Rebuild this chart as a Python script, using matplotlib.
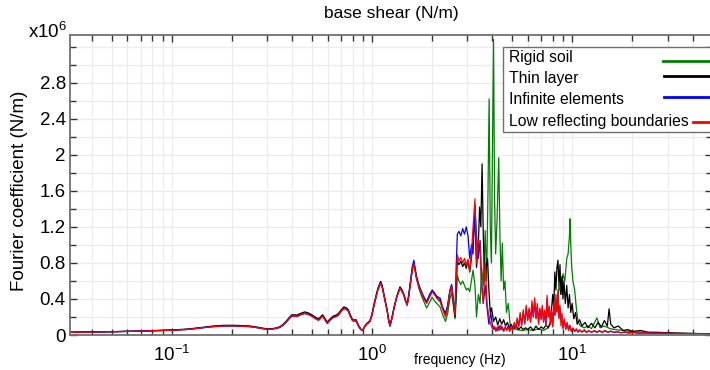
import numpy as np
import matplotlib
matplotlib.use("Agg")
import matplotlib.pyplot as plt
from matplotlib.ticker import MultipleLocator, LogLocator, NullFormatter
from matplotlib.patches import Rectangle
from matplotlib.lines import Line2D

plt.rcParams['font.family'] = ['Liberation Sans', 'DejaVu Sans']
plt.rcParams['mathtext.fontset'] = 'custom'
plt.rcParams['mathtext.rm'] = 'Liberation Sans'
plt.rcParams['mathtext.it'] = 'Liberation Sans:italic'

# shared low-frequency part (Hz) and values (x1e6 N/m)
f_low = [0.031, 0.05, 0.07, 0.1, 0.12, 0.14, 0.16, 0.18, 0.2, 0.22,
         0.245, 0.27, 0.29, 0.31, 0.33, 0.347, 0.36, 0.375, 0.387, 0.397,
         0.41, 0.42, 0.44, 0.462, 0.48, 0.5, 0.52, 0.541, 0.555, 0.567,
         0.58, 0.598, 0.62, 0.641, 0.66, 0.678, 0.7, 0.724, 0.745, 0.762,
         0.78, 0.8, 0.816, 0.832, 0.848, 0.864, 0.88, 0.898, 0.92, 0.94,
         0.96, 0.977, 1.0, 1.02, 1.035, 1.07, 1.105, 1.125, 1.148, 1.17,
         1.193, 1.21, 1.23, 1.26, 1.29, 1.33, 1.38, 1.41, 1.445, 1.47,
         1.5, 1.525, 1.55, 1.59, 1.62, 1.645, 1.67, 1.725, 1.77, 1.81,
         1.876, 1.94, 2.0, 2.05, 2.107, 2.19, 2.26, 2.33, 2.39, 2.45,
         2.5, 2.55, 2.6]
rigid_low = [0.03, 0.036, 0.043, 0.053, 0.062, 0.078, 0.093, 0.1, 0.101, 0.098,
             0.094, 0.08, 0.068, 0.063, 0.072, 0.085, 0.11, 0.15, 0.185, 0.21,
             0.21, 0.205, 0.225, 0.24, 0.23, 0.21, 0.185, 0.165, 0.19, 0.21,
             0.175, 0.13, 0.17, 0.195, 0.205, 0.22, 0.26, 0.295, 0.285, 0.265,
             0.21, 0.16, 0.155, 0.16, 0.12, 0.085, 0.06, 0.05, 0.09, 0.12,
             0.135, 0.15, 0.22, 0.315, 0.38, 0.51, 0.59, 0.54, 0.445, 0.35,
             0.26, 0.17, 0.1, 0.19, 0.3, 0.42, 0.52, 0.49, 0.44, 0.38,
             0.33, 0.42, 0.54, 0.72, 0.79, 0.7, 0.62, 0.5, 0.43, 0.38,
             0.3, 0.36, 0.42, 0.38, 0.35, 0.31, 0.22, 0.15, 0.24, 0.4,
             0.47, 0.32, 0.18]
thin_low = [0.031, 0.037, 0.045, 0.056, 0.066, 0.083, 0.099, 0.107, 0.108, 0.105,
            0.1, 0.086, 0.073, 0.068, 0.077, 0.092, 0.118, 0.16, 0.197, 0.223,
            0.225, 0.22, 0.24, 0.256, 0.246, 0.226, 0.2, 0.18, 0.205, 0.225,
            0.19, 0.143, 0.183, 0.21, 0.22, 0.236, 0.276, 0.312, 0.302, 0.28,
            0.224, 0.172, 0.167, 0.17, 0.13, 0.093, 0.066, 0.055, 0.096, 0.128,
            0.143, 0.16, 0.232, 0.325, 0.385, 0.515, 0.595, 0.55, 0.455, 0.362,
            0.27, 0.178, 0.105, 0.198, 0.31, 0.43, 0.535, 0.505, 0.45, 0.39,
            0.34, 0.43, 0.55, 0.73, 0.8, 0.72, 0.64, 0.53, 0.47, 0.42,
            0.36, 0.43, 0.49, 0.46, 0.42, 0.38, 0.3, 0.24, 0.33, 0.49,
            0.55, 0.37, 0.2]
inf_low = [0.03, 0.036, 0.043, 0.053, 0.062, 0.078, 0.093, 0.1, 0.101, 0.098,
           0.094, 0.08, 0.068, 0.063, 0.072, 0.085, 0.11, 0.15, 0.185, 0.21,
           0.21, 0.205, 0.225, 0.24, 0.23, 0.21, 0.185, 0.165, 0.19, 0.21,
           0.175, 0.13, 0.17, 0.195, 0.205, 0.22, 0.26, 0.295, 0.285, 0.265,
           0.21, 0.16, 0.155, 0.16, 0.12, 0.085, 0.06, 0.05, 0.09, 0.12,
           0.135, 0.15, 0.22, 0.31, 0.37, 0.5, 0.575, 0.53, 0.44, 0.35,
           0.26, 0.17, 0.1, 0.19, 0.3, 0.42, 0.52, 0.49, 0.44, 0.38,
           0.34, 0.44, 0.56, 0.76, 0.83, 0.74, 0.65, 0.54, 0.48, 0.43,
           0.37, 0.45, 0.5, 0.47, 0.43, 0.41, 0.3, 0.22, 0.32, 0.49,
           0.56, 0.4, 0.25]
lrb_low = [0.03, 0.036, 0.043, 0.053, 0.062, 0.078, 0.093, 0.1, 0.101, 0.098,
           0.094, 0.08, 0.068, 0.063, 0.072, 0.085, 0.11, 0.15, 0.185, 0.21,
           0.21, 0.205, 0.225, 0.24, 0.23, 0.21, 0.185, 0.165, 0.19, 0.21,
           0.175, 0.13, 0.17, 0.195, 0.205, 0.22, 0.26, 0.295, 0.285, 0.265,
           0.21, 0.16, 0.155, 0.16, 0.12, 0.085, 0.06, 0.05, 0.09, 0.12,
           0.135, 0.15, 0.22, 0.31, 0.37, 0.5, 0.575, 0.53, 0.44, 0.35,
           0.26, 0.17, 0.1, 0.19, 0.3, 0.42, 0.52, 0.49, 0.44, 0.38,
           0.33, 0.42, 0.54, 0.72, 0.79, 0.71, 0.63, 0.52, 0.46, 0.41,
           0.35, 0.42, 0.48, 0.45, 0.41, 0.37, 0.28, 0.2, 0.3, 0.47,
           0.54, 0.38, 0.22]

# high-frequency parts
f_rigid = [2.63, 2.67, 2.72, 2.78, 2.84, 2.9, 2.96, 3.02, 3.08, 3.14,
           3.2, 3.27, 3.33, 3.4, 3.47, 3.53, 3.6, 3.68, 3.74, 3.8,
           3.85, 3.9, 3.95, 4.0, 4.05, 4.1, 4.15, 4.22, 4.3, 4.36,
           4.42, 4.48, 4.55, 4.62, 4.7, 4.8, 4.9, 5.0, 5.3, 5.6,
           6.0, 6.4, 6.8, 7.2, 7.6, 8.0, 8.2, 8.4, 8.6, 8.8,
           9.0, 9.2, 9.4, 9.55, 9.7, 9.77, 9.85, 9.95, 10.1, 10.3,
           10.5, 10.7, 11.0, 11.5, 12.0, 12.5, 13.3, 13.8, 14.5, 15.5,
           16.5, 18.0, 20.0, 23.0, 27.0, 32.0, 40.0, 50.0]
rigid_hi = [0.35, 0.66, 0.6, 0.56, 0.6, 0.55, 0.5, 0.52, 0.48, 0.6,
            0.72, 0.55, 0.2, 0.45, 0.35, 0.75, 0.55, 1.16, 0.6, 1.6,
            2.62, 1.2, 0.8, 2.0, 3.28, 1.5, 0.9, 1.3, 1.97, 1.1,
            0.6, 1.02, 0.5, 0.6, 0.25, 0.35, 0.12, 0.08, 0.06, 0.05,
            0.06, 0.05, 0.07, 0.05, 0.08, 0.2, 0.35, 0.3, 0.55, 0.45,
            0.68, 0.6, 0.85, 0.9, 1.1, 1.29, 1.0, 0.75, 0.6, 0.5,
            0.3, 0.15, 0.1, 0.08, 0.1, 0.07, 0.19, 0.08, 0.1, 0.07,
            0.06, 0.05, 0.035, 0.03, 0.025, 0.02, 0.016, 0.013]

f_thin = [2.63, 2.67, 2.72, 2.78, 2.84, 2.9, 2.96, 3.02, 3.08, 3.14, 3.2, 3.27,
          3.33, 3.4, 3.45, 3.5, 3.55, 3.6, 3.66, 3.72, 3.78, 3.84, 3.9, 3.96,
          4.05, 4.15, 4.25, 4.35, 4.45, 4.55, 4.65, 4.75, 4.85, 4.95,
          5.1, 5.25, 5.4, 5.55, 5.7, 5.85,
          6.0, 6.2, 6.4, 6.6, 6.8, 7.0, 7.2, 7.4, 7.6, 7.8,
          7.9, 8.0, 8.1, 8.2, 8.3, 8.4, 8.5, 8.6, 8.7, 8.8, 8.9, 9.0, 9.1,
          9.25, 9.4, 9.55, 9.7, 9.85, 10.0,
          10.2, 10.4, 10.6, 10.9, 11.2, 11.6, 12.0,
          12.5, 13.0, 13.5, 14.0, 14.5, 15.0, 15.3, 15.6, 16.2, 17.0,
          18.0, 19.0, 20.0, 22.0, 24.0, 27.0, 30.0, 35.0, 40.0, 45.0, 50.0]
thin_hi = [0.45, 0.82, 0.78, 0.82, 0.76, 0.8, 0.74, 0.82, 0.7, 0.85, 1.05, 1.3,
           0.75, 1.0, 1.42, 1.2, 1.9, 1.1, 0.6, 0.75, 0.85, 0.5, 0.25, 0.3,
           0.15, 0.2, 0.11, 0.18, 0.12, 0.17, 0.1, 0.14, 0.08, 0.12,
           0.07, 0.1, 0.06, 0.09, 0.06, 0.08,
           0.06, 0.09, 0.05, 0.1, 0.06, 0.09, 0.07, 0.11, 0.08, 0.14,
           0.3, 0.45, 0.3, 0.7, 0.5, 0.75, 0.83, 0.55, 0.78, 0.45, 0.65, 0.4, 0.6,
           0.35, 0.55, 0.3, 0.45, 0.25, 0.35,
           0.18, 0.25, 0.12, 0.17, 0.1, 0.14, 0.08,
           0.13, 0.08, 0.14, 0.09, 0.16, 0.1, 0.29, 0.12, 0.08, 0.1,
           0.05, 0.06, 0.04, 0.05, 0.03, 0.03, 0.025, 0.02, 0.017, 0.015, 0.013]

f_hi = [2.63, 2.67, 2.72, 2.78, 2.84, 2.9, 2.96, 3.02, 3.08, 3.14, 3.2, 3.27,
        3.33, 3.4, 3.47, 3.53, 3.6, 3.68, 3.76, 3.84, 3.92,
        4.0, 4.08, 4.16, 4.24, 4.32, 4.4, 4.48, 4.56, 4.64, 4.72, 4.8, 4.88, 4.96,
        5.05, 5.14, 5.23, 5.32, 5.41, 5.5,
        5.6, 5.7, 5.8, 5.9, 6.0, 6.1, 6.2, 6.3, 6.4, 6.5, 6.6, 6.7, 6.8, 6.9,
        7.0, 7.1, 7.2, 7.3, 7.4, 7.5, 7.6, 7.7, 7.8, 7.9, 8.0, 8.1, 8.2, 8.3,
        8.4, 8.5, 8.6, 8.7, 8.8, 8.9, 9.0,
        9.15, 9.3, 9.45, 9.6, 9.75, 9.9,
        10.1, 10.3, 10.5, 10.7, 10.9,
        11.2, 11.5, 11.8, 12.1,
        12.5, 12.9, 13.3, 13.7, 14.1,
        14.6, 15.1, 15.6, 16.2, 16.8, 17.5, 18.3, 19.2, 20.2, 21.5,
        23.0, 25.0, 27.5, 30.0, 33.0, 37.0, 41.0, 45.0, 50.0]
inf_hi = [0.7, 1.12, 1.15, 1.1, 1.18, 1.12, 1.2, 1.1, 0.85, 1.0, 0.9, 1.45,
          1.1, 0.85, 1.05, 0.6, 0.35, 0.55, 0.3, 0.12, 0.25,
          0.1, 0.06, 0.08, 0.05, 0.1, 0.06, 0.09, 0.05, 0.08, 0.06, 0.1, 0.05, 0.08,
          0.06, 0.12, 0.08, 0.17, 0.1, 0.22,
          0.12, 0.25, 0.14, 0.3, 0.17, 0.28, 0.15, 0.34, 0.2, 0.37, 0.19, 0.32, 0.14, 0.28,
          0.18, 0.3, 0.15, 0.26, 0.12, 0.4, 0.2, 0.3, 0.13, 0.25, 0.1, 0.33, 0.22, 0.4,
          0.26, 0.45, 0.2, 0.3, 0.22, 0.2, 0.08,
          0.16, 0.07, 0.13, 0.06, 0.1, 0.05,
          0.07, 0.04, 0.06, 0.035, 0.05,
          0.035, 0.05, 0.03, 0.045,
          0.03, 0.045, 0.03, 0.045, 0.03,
          0.045, 0.03, 0.04, 0.028, 0.035, 0.025, 0.03, 0.022, 0.028, 0.02,
          0.022, 0.02, 0.02, 0.017, 0.016, 0.015, 0.014, 0.013, 0.012]
lrb_hi = [0.55, 0.89, 0.82, 0.86, 0.8, 0.85, 0.78, 0.84, 0.7, 0.9, 1.2, 1.51,
          0.8, 1.05, 1.0, 0.55, 0.35, 0.8, 0.35, 0.2, 0.12,
          0.07, 0.1, 0.04, 0.09, 0.05, 0.11, 0.06, 0.04, 0.1, 0.05, 0.08, 0.04, 0.1,
          0.05, 0.14, 0.07, 0.19, 0.09, 0.25,
          0.1, 0.28, 0.12, 0.33, 0.16, 0.3, 0.14, 0.38, 0.2, 0.41, 0.18, 0.35, 0.12, 0.3,
          0.17, 0.33, 0.14, 0.28, 0.1, 0.44, 0.2, 0.32, 0.12, 0.27, 0.09, 0.36, 0.22, 0.45,
          0.25, 0.5, 0.18, 0.33, 0.1, 0.24, 0.07,
          0.18, 0.06, 0.14, 0.05, 0.11, 0.04,
          0.08, 0.04, 0.07, 0.03, 0.06,
          0.03, 0.06, 0.03, 0.05,
          0.03, 0.05, 0.03, 0.05, 0.03,
          0.05, 0.03, 0.045, 0.03, 0.04, 0.025, 0.035, 0.025, 0.03, 0.02,
          0.025, 0.02, 0.022, 0.018, 0.018, 0.016, 0.015, 0.014, 0.013]

labels = ['Rigid soil', 'Thin layer', 'Infinite elements', 'Low reflecting boundaries']
colors = ['#008000', '#000000', '#0000ff', '#ff0000']
y_ticks = [0, 0.4, 0.8, 1.2, 1.6, 2, 2.4, 2.8]

series = [
    (f_low + f_rigid, rigid_low + rigid_hi),
    (f_low + f_thin, thin_low + thin_hi),
    (f_low + f_hi, inf_low + inf_hi),
    (f_low + f_hi, lrb_low + lrb_hi),
]

W, H = 710, 370
fig = plt.figure(figsize=(W / 100, H / 100), dpi=100)
ax = fig.add_axes([70 / W, 35 / H, 642 / W, 300 / H])

lines = []
for (f, v), lab, c in zip(series, labels, colors):
    ln, = ax.plot(f, v, color=c, lw=0.9, label=lab)
    lines.append(ln)

ax.set_xscale('log')
ax.set_xlim(0.031, 50)
ax.set_ylim(0, 3.33)

ax.set_xticks([0.1, 1, 10], labels=['$10^{-1}$', '$10^{0}$', '$10^{1}$'])
ax.xaxis.set_minor_locator(LogLocator(base=10, subs=np.arange(2, 10)))
ax.xaxis.set_minor_formatter(NullFormatter())
ax.set_yticks(y_ticks, labels=['%g' % t for t in y_ticks])
ax.yaxis.set_minor_locator(MultipleLocator(0.2))

ax.grid(True, which='both', color='#ebebeb', lw=0.8)
ax.set_axisbelow(True)
for s in ax.spines.values():
    s.set_color('#707070')
    s.set_linewidth(1.3)
ax.tick_params(which='both', direction='in', top=True, right=True, colors='#333333',
               labelcolor='black', labelsize=13.5)
ax.tick_params(which='major', length=5, width=1)
ax.tick_params(which='minor', length=4, width=1)
ax.tick_params(axis='x', pad=7)
ax.tick_params(axis='y', pad=3)

ax.set_title('base shear (N/m)', fontsize=12.5, pad=12)
ax.set_ylabel('Fourier coefficient (N/m)', fontsize=13.5)
ax.yaxis.set_label_coords(-0.078, 0.48)
ax.yaxis.label.set_va('center')
ax.set_xlabel('frequency (Hz)', fontsize=10)
ax.xaxis.set_label_coords(0.607, -0.083)
ax.xaxis.label.set_va('center')

fig.text(28 / W, (H - 38) / H, 'x10$^{6}$', fontsize=13.5, va='baseline')

# legend box in the MATLAB style: labels left, line samples on the right,
# box running off the right edge of the picture
fig.add_artist(Rectangle((503 / W, 1 - 131.7 / H), 300 / W, 85 / H,
                         transform=fig.transFigure, facecolor='white',
                         edgecolor='#707070', lw=1.0, zorder=5))
text_y = [57.3, 78.3, 99.3, 121.7]
line_y = [60.5, 76.0, 96.7, 121.7]
line_x0 = [663, 664, 664, 693]
for ln, ty, ly, x0 in zip(lines, text_y, line_y, line_x0):
    fig.text(508.5 / W, 1 - ty / H, ln.get_label(), fontsize=11.3, va='center',
             zorder=6)
    fig.add_artist(Line2D([x0 / W, 760 / W], [1 - ly / H, 1 - ly / H],
                          transform=fig.transFigure, color=ln.get_color(),
                          lw=2.0, zorder=6))

fig.savefig('out.png', dpi=100)
